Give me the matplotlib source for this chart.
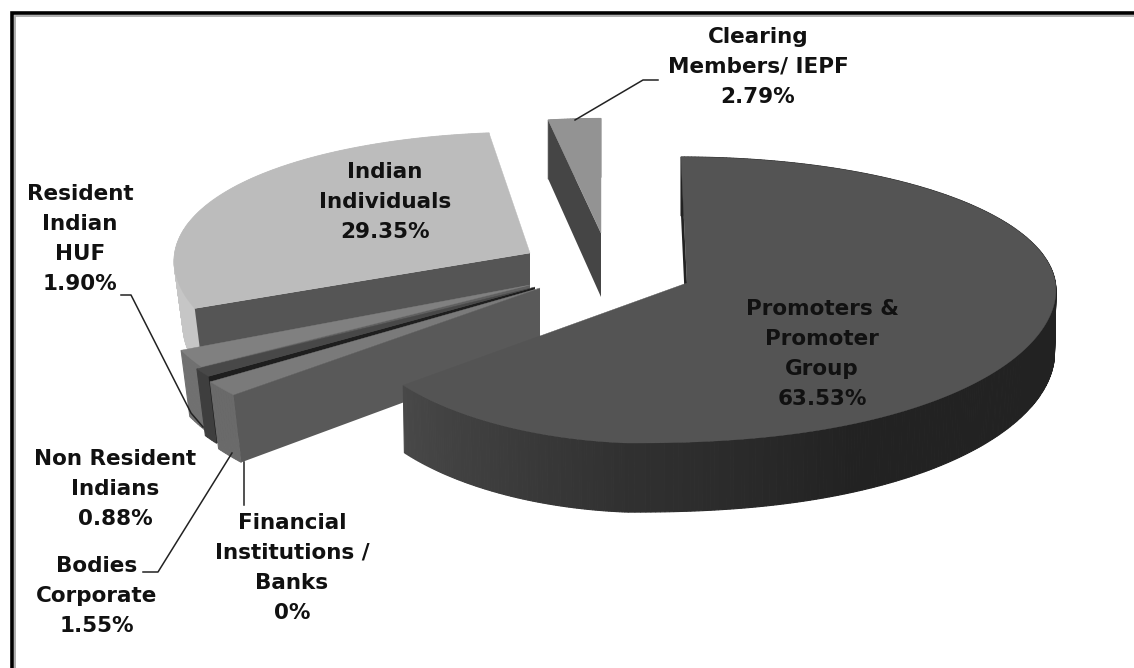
import matplotlib
matplotlib.use('Agg')
import matplotlib.pyplot as plt
from matplotlib.patches import Polygon
from matplotlib.colors import to_rgb
import numpy as np

plt.rcParams['font.family'] = ['DejaVu Sans']

# clockwise from 12 o'clock, same order as the chart
categories = ['Promoters & Promoter Group', 'Financial Institutions / Banks', 'Bodies Corporate',
              'Non Resident Indians', 'Resident Indian HUF', 'Indian Individuals', 'Clearing Members/ IEPF']
shares = [63.53, 0, 1.55, 0.88, 1.90, 29.35, 2.79]
share_labels = ['63.53%', '0%', '1.55%', '0.88%', '1.90%', '29.35%', '2.79%']

# apex of each exploded slice, radius scale in x and y, small rotation
apex_x = [687, 540, 540, 535, 530, 530, 601]
apex_y = [283, 288, 288, 287, 285, 253, 233]
rad_x = [1.0, 1.06, 1.06, 1.05, 1.02, 0.96, 0.87]
rad_y = [1.0, 1.05, 1.05, 1.0, 1.0, 0.96, 0.91]
tilt = [0, 0, 0, 0, 0, 3, 0]
shrink = [0.996, 0.975, 0.975, 0.975, 0.975, 0.975, 1.0]
top_col = ['#545454', '#222222', '#7a7a7a', '#484848', '#808080', '#bcbcbc', '#939393']
rim_col = ['#232323', '#222222', '#6a6a6a', '#3e3e3e', '#707070', '#c6c6c6', '#939393']
wall_col = ['#222222', '#222222', '#595959', '#1e1e1e', '#606060', '#555555', '#454545']

A, B, KX, KY = 370, 143, 0.06, 0.12
DEPTH, KD = 64, 0.08

fig = plt.figure(figsize=(11.34, 6.68), dpi=100)
ax = fig.add_axes([0, 0, 1, 1])
ax.set_xlim(0, 1134)
ax.set_ylim(668, 0)
ax.axis('off')

# frame, only top and left edges are in the crop
ax.plot([11.5, 11.5, 1134], [668, 12.5, 12.5], color='black', lw=2.6, solid_joinstyle='miter')
ax.plot([15, 15, 1134], [668, 15.5, 15.5], color='#a8a8a8', lw=1.3, solid_joinstyle='miter')


def project(i, deg):
    t = np.radians(deg + tilt[i])
    s, c = np.sin(t), -np.cos(t)
    if i == 0:
        # big slice is lopsided in the 3d view: wide on the right, narrow on the left
        bulge = np.where(c > 0, np.abs(s) ** 0.85, np.abs(s))
        x = np.where(s > 0, 401 * bulge, -310 * np.abs(s)) - 33 - 27 * c
        y = 17 + 143 * c + np.where(s < 0, 12 * s, 0)
        x, y = apex_x[i] + x, apex_y[i] + y
    else:
        x = apex_x[i] + rad_x[i] * A * s * (1 + KX * c)
        y = apex_y[i] + rad_y[i] * B * c * (1 + KY * c)
    d = DEPTH * (1 + KD * c)
    return x, y, apex_x[i] + (x - apex_x[i]) * shrink[i], y + d


def main_rim(deg):
    # side of the big slice fades lighter towards its left end
    f = np.clip((deg - 150) / 79, 0, 1)
    v = 0.133 + f * 0.15
    return (v, v, v)


cum = np.concatenate([[0], np.cumsum(shares)]) * 3.6

for i in [6, 5, 4, 3, 2, 1, 0]:
    if shares[i] == 0:
        continue
    th = np.linspace(cum[i], cum[i + 1], max(int(cum[i + 1] - cum[i]) * 2, 4))
    xs, ys, xl, yl = project(i, th)
    # outer rim
    for j in range(len(th) - 1):
        col = main_rim(th[j]) if i == 0 else to_rgb(rim_col[i])
        ax.add_patch(Polygon([(xs[j], ys[j]), (xs[j + 1], ys[j + 1]), (xl[j + 1], yl[j + 1]), (xl[j], yl[j])],
                             fc=col, ec=col, lw=0.8))
    # start side wall
    ax.add_patch(Polygon([(apex_x[i], apex_y[i]), (xs[0], ys[0]), (xl[0], yl[0]),
                          (apex_x[i], apex_y[i] + DEPTH)], fc=wall_col[i], ec='none'))
    # top face
    ax.add_patch(Polygon(np.column_stack([np.r_[apex_x[i], xs], np.r_[apex_y[i], ys]]),
                         fc=top_col[i], ec=top_col[i], lw=0.3))

# leader lines
for lx, ly in [([575, 643, 658], [120, 80, 80]), ([121, 131, 191, 203], [295, 295, 413, 427]),
               ([143, 158, 232], [572, 572, 453]), ([244, 244], [462, 505])]:
    ax.plot(lx, ly, color='#222222', lw=1.1)

# labels
tx = dict(ha='center', va='center', fontsize=15.5, color='#111111', fontweight='bold', linespacing=1.64)
ax.text(758, 67, 'Clearing\nMembers/ IEPF\n' + share_labels[6], **tx)
ax.text(385, 202, 'Indian\nIndividuals\n' + share_labels[5], **tx)
ax.text(80, 239, 'Resident\nIndian\nHUF\n' + share_labels[4], **tx)
ax.text(822, 354, 'Promoters &\nPromoter\nGroup\n' + share_labels[0], **tx)
ax.text(115, 489, 'Non Resident\nIndians\n' + share_labels[3], **tx)
ax.text(97, 596, 'Bodies\nCorporate\n' + share_labels[2], **tx)
ax.text(292, 568, 'Financial\nInstitutions /\nBanks\n' + share_labels[1], **tx)

fig.savefig('out.png', dpi=100)
